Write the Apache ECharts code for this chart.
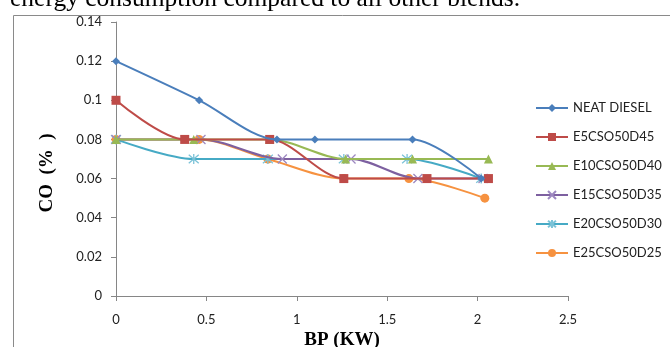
<!DOCTYPE html>
<html>
<head>
<meta charset="utf-8">
<script src="https://cdn.jsdelivr.net/npm/echarts@6/dist/echarts.min.js"></script>
<style>
  html, body { margin: 0; padding: 0; background: #fff; }
  #chart { width: 670px; height: 347px; }
</style>
</head>
<body>
<div id="chart"></div>
<script>
// Brake power (kW) at each test point, per blend
const bpDiesel = [0, 0.46, 0.89, 1.10, 1.64, 2.02];
const bpE5     = [0, 0.38, 0.85, 1.26, 1.72, 2.06];
const bpE10    = [0, 0.43, 0.85, 1.27, 1.64, 2.06];
const bpE15    = [0, 0.47, 0.92, 1.30, 1.67, 2.03];
const bpE20    = [0, 0.43, 0.84, 1.26, 1.61, 2.02];
const bpE25    = [0, 0.46, 0.84, 1.26, 1.62, 2.04];

// CO emission (%)
const coDiesel = [0.12, 0.10, 0.08, 0.08, 0.08, 0.06];
const coE5     = [0.10, 0.08, 0.08, 0.06, 0.06, 0.06];
const coE10    = [0.08, 0.08, 0.08, 0.07, 0.07, 0.07];
const coE15    = [0.08, 0.08, 0.07, 0.07, 0.06, 0.06];
const coE20    = [0.08, 0.07, 0.07, 0.07, 0.07, 0.06];
const coE25    = [0.08, 0.08, 0.07, 0.06, 0.06, 0.05];

const seriesNames = ['NEAT DIESEL', 'E5CSO50D45', 'E10CSO50D40', 'E15CSO50D35', 'E20CSO50D30', 'E25CSO50D25'];
const xTicks = [0, 0.5, 1, 1.5, 2, 2.5];

const xs = [bpDiesel, bpE5, bpE10, bpE15, bpE20, bpE25];
const ys = [coDiesel, coE5, coE10, coE15, coE20, coE25];
const colors = ['#4A7EBB', '#BE4B48', '#98B954', '#7D60A0', '#46AAC5', '#F69240'];
const markerColors = ['#4A7EBB', '#BE4B48', '#98B954', '#9D88C0', '#7CC3D8', '#F69240'];

const crossPath = 'path://M0,0 L10,10 M10,0 L0,10';
const starPath = 'path://M0,0 L10,10 M10,0 L0,10 M5,-1 L5,11';
const symbols = ['diamond', 'rect', 'triangle', crossPath, starPath, 'circle'];
const symbolSizes = [8, 9, 9, 9, 10, 9];

const chart = echarts.init(document.getElementById('chart'), null, { renderer: 'canvas' });

const series = seriesNames.map((name, i) => {
  const stroked = i === 3 || i === 4;
  return {
    name: name,
    type: 'line',
    smooth: 0.3,
    data: xs[i].map((x, k) => [x, ys[i][k]]),
    symbol: symbols[i],
    symbolSize: symbolSizes[i],
    showSymbol: true,
    lineStyle: { color: colors[i], width: 2 },
    itemStyle: stroked
      ? { color: 'rgba(0,0,0,0)', borderColor: markerColors[i], borderWidth: 1.3 }
      : { color: markerColors[i], borderColor: markerColors[i], borderWidth: 0 },
    emphasis: { disabled: true },
    z: 10 - i
  };
});

chart.setOption({
  animation: false,
  backgroundColor: '#fff',
  grid: { left: 116, right: 102, top: 22, bottom: 51, containLabel: false, outerBoundsMode: 'none' },
  legend: {
    orient: 'vertical',
    left: 530,
    top: 96,
    itemWidth: 32,
    itemHeight: 10,
    itemGap: 15,
    data: seriesNames,
    textStyle: { fontFamily: 'Lato', fontSize: 13, color: '#222', lineHeight: 14 }
  },
  xAxis: {
    type: 'value',
    min: 0, max: 2.5, interval: 0.5,
    name: 'BP (KW)',
    nameLocation: 'middle',
    nameGap: 30,
    nameTextStyle: { fontFamily: 'Liberation Serif', fontWeight: 'bold', fontSize: 19, color: '#000' },
    axisLine: { lineStyle: { color: '#868686', width: 1 } },
    axisTick: { show: true, inside: false, length: 5, lineStyle: { color: '#868686' } },
    splitLine: { show: false },
    axisLabel: {
      fontFamily: 'Lato', fontSize: 13, color: '#222', margin: 17,
      customValues: xTicks,
      formatter: v => String(+v.toFixed(1))
    }
  },
  yAxis: {
    type: 'value',
    min: 0, max: 0.14, interval: 0.02,
    axisLine: { show: true, lineStyle: { color: '#868686', width: 1 } },
    axisTick: { show: true, inside: false, length: 5, lineStyle: { color: '#868686' } },
    splitLine: { show: false },
    axisLabel: {
      fontFamily: 'Lato', fontSize: 13, color: '#222', margin: 14,
      formatter: v => String(+v.toFixed(2))
    }
  },
  graphic: [
    {
      type: 'rect',
      shape: { x: 13.5, y: 15.5, width: 800, height: 500 },
      style: { fill: 'none', stroke: '#8a8a8a', lineWidth: 1 },
      silent: true, z: 0
    },
    {
      type: 'text',
      x: 10, y: -1,
      style: {
        text: 'energy consumption compared to all other blends.',
        font: '25.5px "Liberation Serif"',
        fill: '#000',
        verticalAlign: 'middle'
      },
      silent: true
    },
    {
      type: 'text',
      x: 47, y: 173,
      rotation: Math.PI / 2,
      style: {
        text: 'CO  (%  )',
        font: 'bold 19px "Liberation Serif"',
        fill: '#000',
        align: 'center',
        verticalAlign: 'middle'
      },
      silent: true
    }
  ],
  series: series
});
</script>
</body>
</html>
